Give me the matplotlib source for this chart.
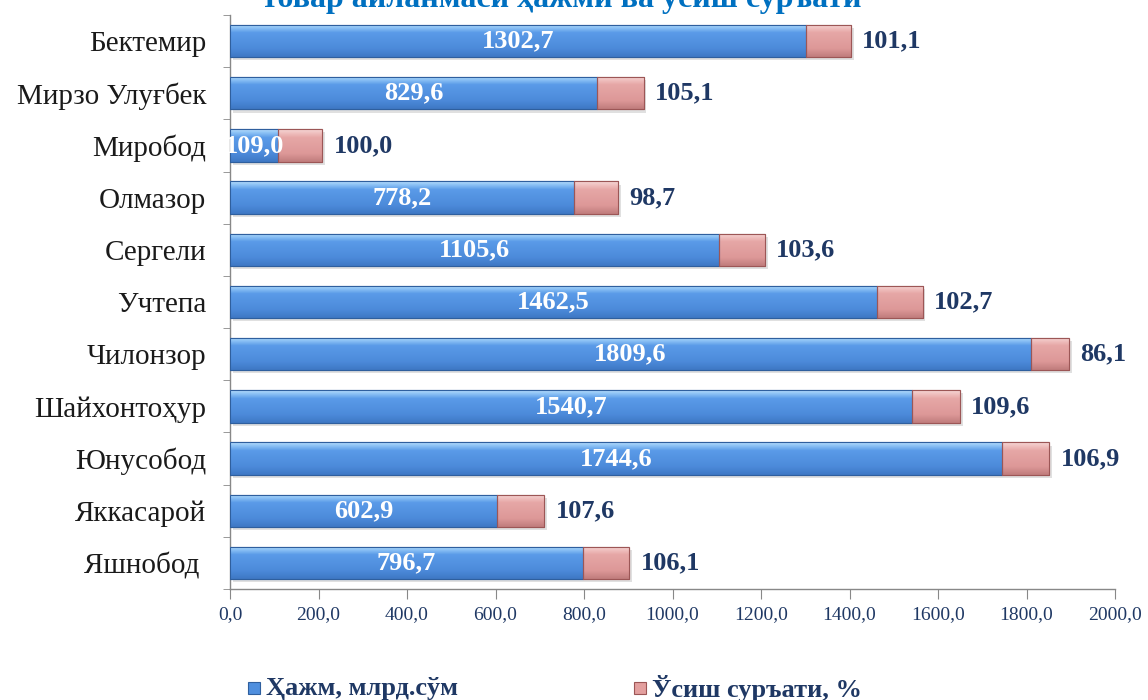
import matplotlib
matplotlib.use("Agg")
import matplotlib.pyplot as plt
import numpy as np
from matplotlib.patches import Rectangle
from matplotlib.colors import LinearSegmentedColormap

districts = ["Бектемир", "Мирзо Улуғбек", "Миробод", "Олмазор", "Сергели", "Учтепа",
             "Чилонзор", "Шайхонтоҳур", "Юнусобод", "Яккасарой", "Яшнобод "]
volume = [1302.7, 829.6, 109.0, 778.2, 1105.6, 1462.5, 1809.6, 1540.7, 1744.6, 602.9, 796.7]
growth = [101.1, 105.1, 100.0, 98.7, 103.6, 102.7, 86.1, 109.6, 106.9, 107.6, 106.1]
xticks = [0, 200, 400, 600, 800, 1000, 1200, 1400, 1600, 1800, 2000]
series_names = ["Ҳажм, млрд.сўм", "Ўсиш суръати, %"]
title = "товар айланмаси ҳажми ва ўсиш суръати"

SERIF = ["Liberation Serif", "DejaVu Serif"]
NAVY = "#1F3864"
BLUE = "#4F8FDE"
BLUE_EDGE = "#2F5F9E"
PINK = "#E3A09F"
PINK_EDGE = "#9C5656"

blue_cmap = LinearSegmentedColormap.from_list(
    "b", [(0, "#3E78C4"), (0.25, "#4C8ADA"), (0.75, "#5A9BE8"), (0.9, "#8EC3F6"), (1, "#B5DCFB")])
pink_cmap = LinearSegmentedColormap.from_list(
    "p", [(0, "#C07C7C"), (0.25, "#DD9898"), (0.75, "#E6A7A6"), (0.9, "#F0C3C2"), (1, "#F6D6D5")])

def fmt(v):
    return f"{v:.1f}".replace(".", ",")

W, H = 1148, 700
fig = plt.figure(figsize=(W / 100, H / 100), dpi=100)
ax = fig.add_axes([230 / W, 1 - 589 / H, (1115 - 230) / W, 574 / H])

n = len(districts)
ypos = [n - 1 - i for i in range(n)]
h = 0.62

grad = np.linspace(0, 1, 64).reshape(-1, 1)

def shade(bars, cmap):
    for b in bars:
        x0, y0 = b.get_x(), b.get_y()
        w, hh = b.get_width(), b.get_height()
        # soft shadow
        ax.add_patch(Rectangle((x0 + 6, y0 - 0.06), w, hh, facecolor="#000000",
                               alpha=0.12, edgecolor="none", zorder=2))
        im = ax.imshow(grad, extent=(x0, x0 + w, y0, y0 + hh), origin="lower",
                       aspect="auto", cmap=cmap, zorder=3.5, interpolation="bilinear")
        im.set_clip_path(b)

bars1 = ax.barh(ypos, volume, height=h, color=BLUE, edgecolor=BLUE_EDGE, linewidth=0.8, zorder=3)
bars2 = ax.barh(ypos, growth, left=volume, height=h, color=PINK, edgecolor=PINK_EDGE,
                linewidth=0.8, zorder=3)
shade(bars1, blue_cmap)
shade(bars2, pink_cmap)
for b in list(bars1) + list(bars2):
    ax.add_patch(Rectangle((b.get_x(), b.get_y()), b.get_width(), b.get_height(),
                           facecolor="none", edgecolor=b.get_edgecolor(), linewidth=0.8, zorder=4))

for y, v, g in zip(ypos, volume, growth):
    ax.text(v / 2, y, fmt(v), ha="center", va="center", color="white",
            fontsize=19, fontweight="bold", family=SERIF, zorder=5)
    ax.annotate(fmt(g), xy=(v + g, y), xytext=(8, 0), textcoords="offset points",
                ha="left", va="center", color=NAVY, fontsize=19, fontweight="bold",
                family=SERIF, zorder=5)

ax.set_xlim(0, 2000)
ax.set_ylim(-0.5, n - 0.5)
ax.set_xticks(xticks)
ax.set_xticklabels([fmt(t) for t in xticks], family=SERIF, fontsize=14, color=NAVY)
ax.set_yticks(ypos)
ax.set_yticklabels(districts, family=SERIF, fontsize=21, color="#1a1a1a")
ax.tick_params(axis="y", length=0, pad=17)
ax.set_yticks([i + 0.5 for i in range(-1, n)], minor=True)
ax.tick_params(axis="y", which="minor", length=5, color="#888888", direction="out")
ax.tick_params(axis="x", length=7, color="#888888", direction="out", pad=5)
for s in ["top", "right"]:
    ax.spines[s].set_visible(False)
for s in ["left", "bottom"]:
    ax.spines[s].set_color("#888888")
    ax.spines[s].set_linewidth(1.0)

fig.text(562 / W, 1 - 7 / H, title, ha="center", va="baseline", color="#0070C0",
         fontsize=23, fontweight="bold", family=SERIF)

# legend
for (x0, col, ec, name) in [(248, BLUE, BLUE_EDGE, series_names[0]),
                            (634, PINK, PINK_EDGE, series_names[1])]:
    fig.patches.append(Rectangle((x0 / W, 1 - 694 / H), 12 / W, 12 / H,
                                 transform=fig.transFigure, facecolor=col,
                                 edgecolor=ec, linewidth=0.8))
    fig.text((x0 + 18) / W, 1 - 688 / H, name, ha="left", va="center", color=NAVY,
             fontsize=19, fontweight="bold", family=SERIF)

fig.savefig("out.png", dpi=100)
